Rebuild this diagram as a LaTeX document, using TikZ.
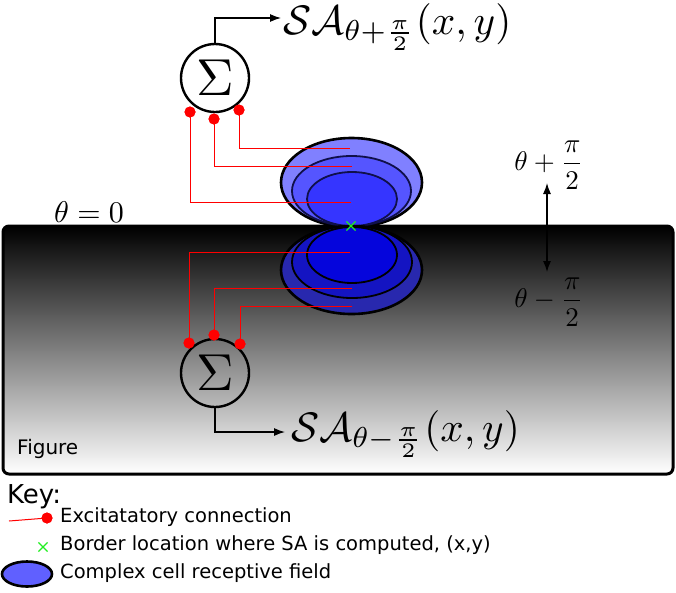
\documentclass[tikz,border=0pt]{standalone}
\usepackage{graphicx}
\usepackage{fontspec}
\newfontfamily\dejavu{DejaVu Sans}
\usetikzlibrary{arrows.meta,shapes.misc,shapes.geometric}
\definecolor{uOut}{HTML}{8080FF}
\definecolor{uMid}{HTML}{5555FF}
\definecolor{uIn}{HTML}{3535FF}
\definecolor{lOut}{HTML}{2828AE}
\definecolor{lMid}{HTML}{1414C2}
\definecolor{lIn}{HTML}{0505DC}
\definecolor{keyEll}{HTML}{6060FF}
\definecolor{navy}{HTML}{10104A}
\definecolor{xgreen}{HTML}{22EE22}
\begin{document}
\begin{tikzpicture}[x=1pt,y=-1pt,
  sumnode/.style={circle,draw,line width=2.4pt,minimum size=68pt,inner sep=0pt},
  redwire/.style={draw=red,line width=1pt},
  reddot/.style={circle,fill=red,inner sep=0pt,minimum size=11pt},
  outarrow/.style={line width=1.2pt,-{Latex[length=11pt,width=8pt]}},
  dblarrow/.style={line width=1.2pt,{Latex[length=11pt,width=8pt]}-{Latex[length=11pt,width=8pt]}},
  outer/.style={draw=black,line width=2.6pt},
  innerU/.style={draw=navy,line width=1.8pt},
  innerL/.style={draw=black,line width=1.8pt},
  satext/.style={inner sep=0pt},
  thetatext/.style={inner sep=0pt},
  keytext/.style={font=\dejavu\fontsize{19.5}{23}\selectfont,anchor=west,inner sep=0pt},
  greenx/.style={cross out,draw=xgreen,line width=1.2pt,minimum size=8pt,inner sep=0pt}
]
\useasboundingbox (0,0) rectangle (676,592);

% figure region
\draw[line width=3pt,rounded corners=6pt,top color=black,bottom color=white]
  (3,226) rectangle (673,474);
\node[font=\dejavu\fontsize{20}{24}\selectfont,anchor=west,inner sep=0pt] (figlbl) at (17,449) {Figure};

% upper receptive fields
\draw[outer,fill=uOut] (351.5,182.5) ellipse [x radius=70.5,y radius=44.5];
\draw[innerU,fill=uMid] (351.5,191) ellipse [x radius=59.5,y radius=35];
\draw[innerU,fill=uIn] (352,199) ellipse [x radius=45,y radius=27];
% lower receptive fields
\draw[outer,fill=lOut] (351.5,270) ellipse [x radius=70.5,y radius=44];
\draw[innerL,fill=lMid] (352,262) ellipse [x radius=60,y radius=36];
\draw[innerL,fill=lIn] (352,255) ellipse [x radius=45,y radius=28];

% sum nodes
\node[sumnode] (sumU) at (215,78) {\scalebox{5.2}{$\Sigma$}};
\node[sumnode] (sumL) at (215,373) {\scalebox{5.2}{$\Sigma$}};

% wire endpoints
\coordinate (u1) at (350,148);
\coordinate (u2) at (352,166);
\coordinate (u3) at (351,202);
\coordinate (l1) at (350,252);
\coordinate (l2) at (352,288);
\coordinate (l3) at (352,306);

% red dots
\node[reddot] (dUL) at (190,112) {};
\node[reddot] (dUM) at (214,119) {};
\node[reddot] (dUR) at (239,110) {};
\node[reddot] (dLL) at (189,343) {};
\node[reddot] (dLM) at (214,335) {};
\node[reddot] (dLR) at (240,344) {};

\draw[redwire] (dUR.center) |- (u1);
\draw[redwire] (dUM.center) |- (u2);
\draw[redwire] (dUL.center) |- (u3);
\draw[redwire] (dLL.center) |- (l1);
\draw[redwire] (dLM.center) |- (l2);
\draw[redwire] (dLR.center) |- (l3);
\node[reddot] at (dUL) {};
\node[reddot] at (dUM) {};
\node[reddot] at (dUR) {};
\node[reddot] at (dLL) {};
\node[reddot] at (dLM) {};
\node[reddot] at (dLR) {};

% border location
\node[greenx] (bx) at (351,226) {};

% outputs
\node[satext,anchor=base west] (saU) at (283,34) {\scalebox{4.12}{$\mathcal{SA}_{\theta+\frac{\pi}{2}}(x,y)$}};
\node[satext,anchor=base west] (saL) at (291,441) {\scalebox{4.12}{$\mathcal{SA}_{\theta-\frac{\pi}{2}}(x,y)$}};
\coordinate (tipU) at (281,18);
\coordinate (tipL) at (285,432);
\draw[outarrow] (sumU.north) |- (tipU);
\draw[outarrow] (sumL.south) |- (tipL);

% angle labels
\node[thetatext] (th0) at (89,212) {\scalebox{3.0}{$\theta=0$}};
\node[thetatext] (thP) at (549,165) {\scalebox{2.7}{$\displaystyle\theta+\frac{\pi}{2}$}};
\node[thetatext] (thM) at (549,302) {\scalebox{2.7}{$\displaystyle\theta-\frac{\pi}{2}$}};
\coordinate (aTop) at (547,183);
\coordinate (aBot) at (547,272);
\draw[dblarrow] (aTop) -- (aBot);

% key
\node[font=\dejavu\fontsize{26}{30}\selectfont,anchor=west,inner sep=0pt] (key) at (7,497) {Key:};
\coordinate (kw) at (9,521);
\node[reddot] (kdot) at (47,518) {};
\draw[redwire] (kw) -- (kdot.center);
\node[reddot] at (kdot) {};
\node[keytext] (k1) at (60,517) {Excitatatory connection};
\node[greenx] (kx) at (43,547) {};
\node[keytext] (k2) at (60,545) {Border location where SA is computed, (x,y)};
\node[ellipse,draw,line width=2.6pt,fill=keyEll,minimum width=50pt,minimum height=25pt,inner sep=0pt] (kell) at (27,574) {};
\node[keytext] (k3) at (60,573) {Complex cell receptive field};
\end{tikzpicture}
\end{document}
